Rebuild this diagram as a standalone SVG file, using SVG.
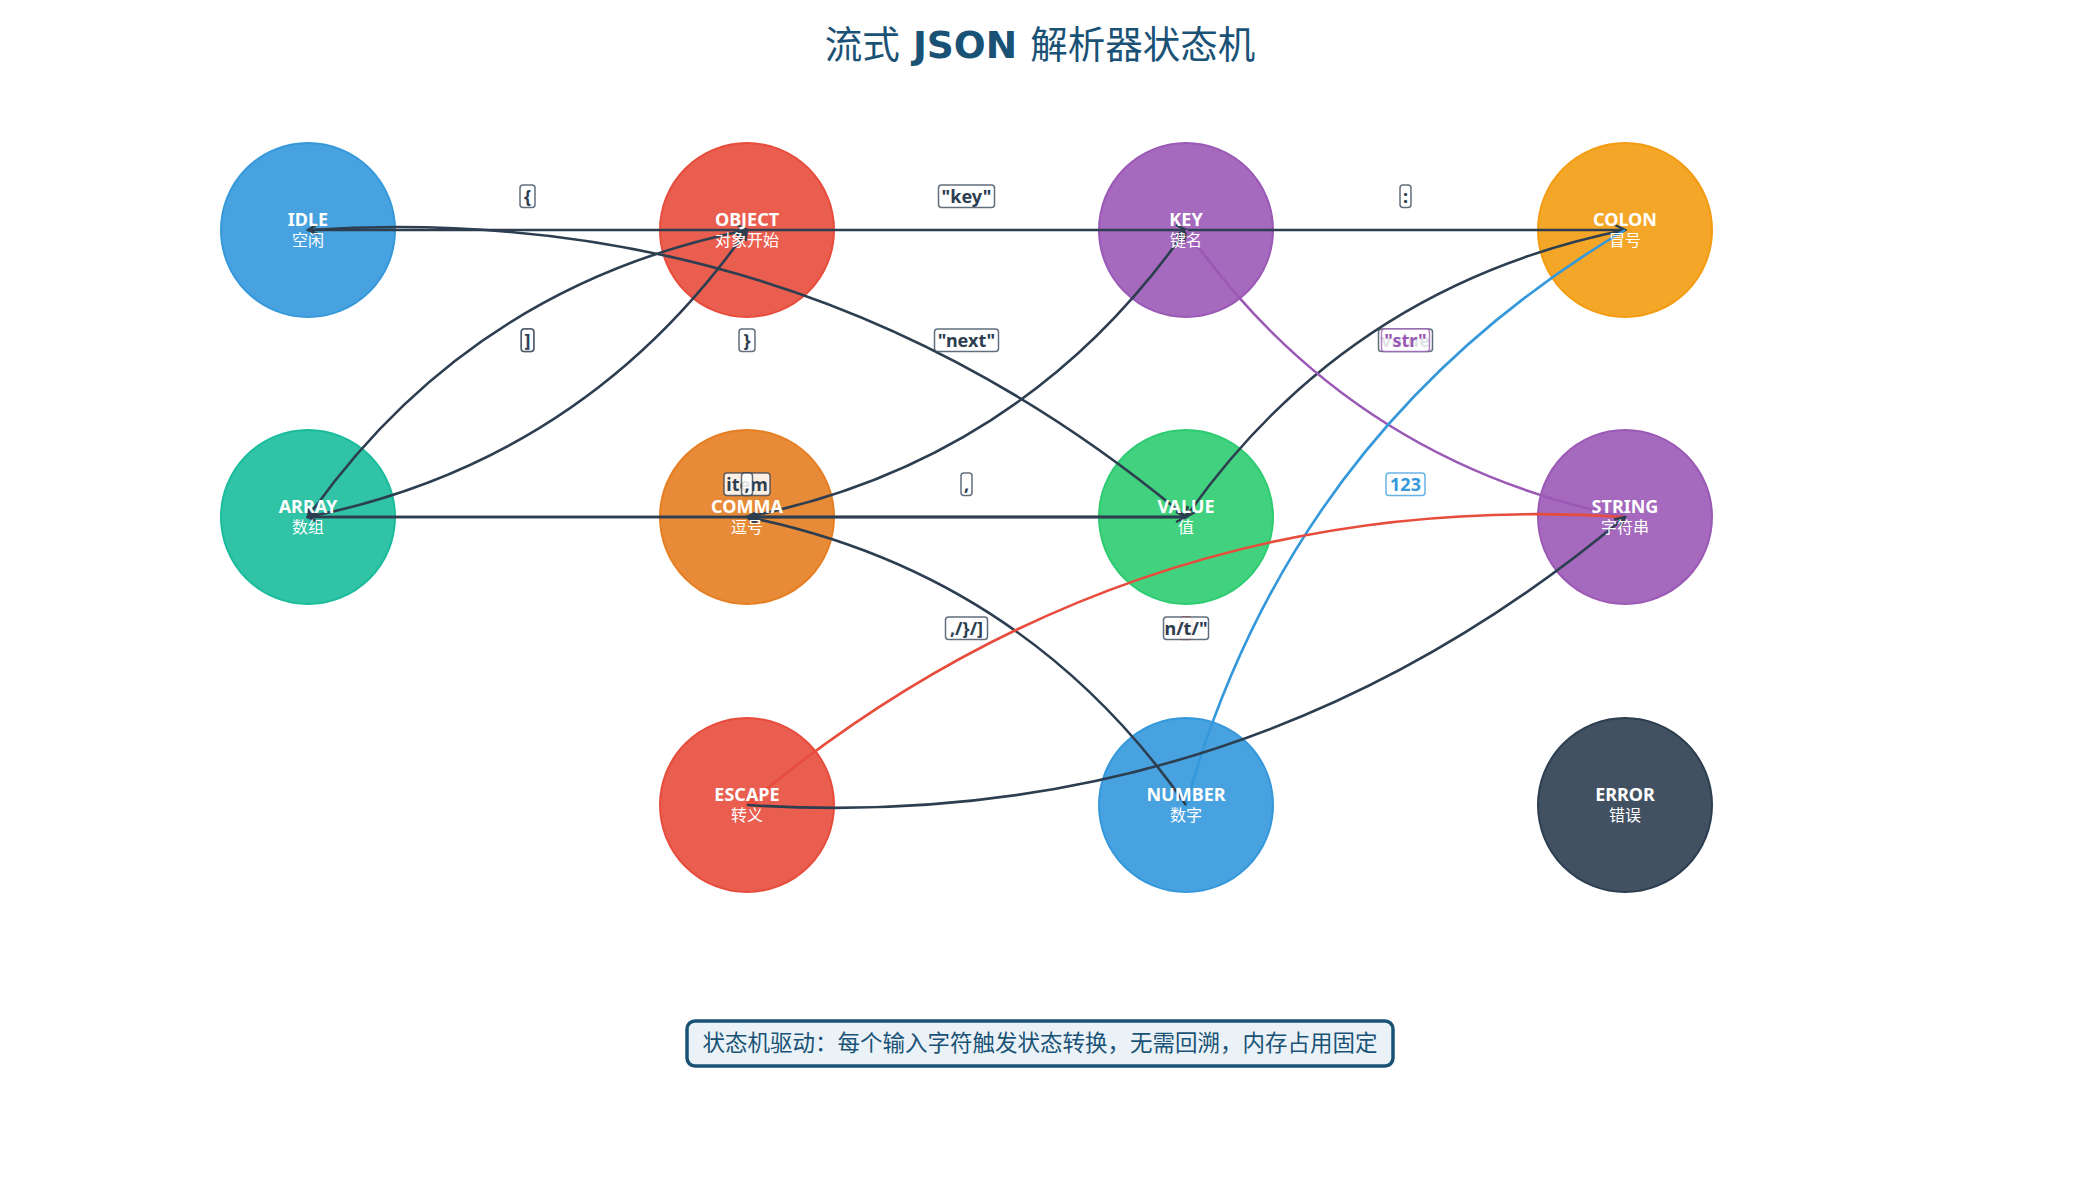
<svg xmlns="http://www.w3.org/2000/svg" width="2080" height="1180" viewBox="0 0 2080 1180">
<defs>
<style>
.node circle{stroke-width:2;fill-opacity:0.9}
.nm{font-family:"Noto Sans","Open Sans","DejaVu Sans",sans-serif;font-weight:bold;font-size:18px;fill:#fff;text-anchor:middle}
.sb{font-family:"Noto Sans CJK SC","Noto Sans",sans-serif;font-size:16px;fill:#fff;text-anchor:middle}
.e{fill:none;stroke-width:2.6}
.ed{stroke:#2c3e50;marker-end:url(#ad)}
.ep{stroke:#9b59b6;marker-end:url(#ap)}
.eb{stroke:#3498db;marker-end:url(#ab)}
.er{stroke:#e74c3c;marker-end:url(#ar)}
.lb rect{fill:#fff;fill-opacity:0.86;stroke-width:1.5;stroke-opacity:0.75}
.lb text{font-family:"Noto Sans","Open Sans","DejaVu Sans",sans-serif;font-weight:bold;font-size:18px;text-anchor:middle}
.ld rect{stroke:#2c3e50}.ld text{fill:#2c3e50}
.lp rect{stroke:#9b59b6}.lp text{fill:#9b59b6}
.lbb rect{stroke:#3498db}.lbb text{fill:#3498db}
.lr rect{stroke:#e74c3c}.lr text{fill:#e74c3c}
</style>
<marker id="ad" viewBox="0 0 14 14" refX="12" refY="7" markerWidth="14" markerHeight="14" markerUnits="userSpaceOnUse" orient="auto"><path d="M2,2 L12,7 L2,12" fill="none" stroke="#2c3e50" stroke-width="2.5"/></marker>
<marker id="ap" viewBox="0 0 14 14" refX="12" refY="7" markerWidth="14" markerHeight="14" markerUnits="userSpaceOnUse" orient="auto"><path d="M2,2 L12,7 L2,12" fill="none" stroke="#9b59b6" stroke-width="2.5"/></marker>
<marker id="ab" viewBox="0 0 14 14" refX="12" refY="7" markerWidth="14" markerHeight="14" markerUnits="userSpaceOnUse" orient="auto"><path d="M2,2 L12,7 L2,12" fill="none" stroke="#3498db" stroke-width="2.5"/></marker>
<marker id="ar" viewBox="0 0 14 14" refX="12" refY="7" markerWidth="14" markerHeight="14" markerUnits="userSpaceOnUse" orient="auto"><path d="M2,2 L12,7 L2,12" fill="none" stroke="#e74c3c" stroke-width="2.5"/></marker>
</defs>
<rect width="2080" height="1180" fill="#fff"/>
<text x="1040" y="58" text-anchor="middle" fill="#1a5276" font-size="37.5" font-family="'DejaVu Sans','Noto Sans CJK SC',sans-serif"><tspan font-family="'Noto Sans CJK SC',sans-serif">流式</tspan><tspan font-weight="bold"> JSON </tspan><tspan font-family="'Noto Sans CJK SC',sans-serif">解析器状态机</tspan></text>

<g id="node-idle" class="node"><circle cx="308" cy="230" r="87" fill="#3498db" stroke="#3498db"/></g>
<g id="node-object" class="node"><circle cx="747" cy="230" r="87" fill="#e74c3c" stroke="#e74c3c"/></g>
<g id="node-key" class="node"><circle cx="1186" cy="230" r="87" fill="#9b59b6" stroke="#9b59b6"/></g>
<g id="node-colon" class="node"><circle cx="1625" cy="230" r="87" fill="#f39c12" stroke="#f39c12"/></g>
<g id="node-array" class="node"><circle cx="308" cy="517" r="87" fill="#1abc9c" stroke="#1abc9c"/></g>
<g id="node-comma" class="node"><circle cx="747" cy="517" r="87" fill="#e67e22" stroke="#e67e22"/></g>
<g id="node-value" class="node"><circle cx="1186" cy="517" r="87" fill="#2ecc71" stroke="#2ecc71"/></g>
<g id="node-string" class="node"><circle cx="1625" cy="517" r="87" fill="#9b59b6" stroke="#9b59b6"/></g>
<g id="node-escape" class="node"><circle cx="747" cy="805" r="87" fill="#e74c3c" stroke="#e74c3c"/></g>
<g id="node-number" class="node"><circle cx="1186" cy="805" r="87" fill="#3498db" stroke="#3498db"/></g>
<g id="node-error" class="node"><circle cx="1625" cy="805" r="87" fill="#2c3e50" stroke="#2c3e50"/></g>

<g id="connectors">
<path class="e ed" d="M308,230 L747,230"/>
<path class="e ed" d="M747,230 L1186,230"/>
<path class="e ed" d="M1186,230 L1625,230"/>
<path class="e ed" d="M747,230 Q470.1,285.7 308,517"/>
<path class="e ed" d="M308,517 Q584.9,461.3 747,230"/>
<path class="e ed" d="M1186,517 Q804.4,197.9 308,230"/>
<path class="e ed" d="M747,517 Q1023.9,461.3 1186,230"/>
<path class="e ed" d="M1625,230 Q1348.1,285.7 1186,517"/>
<path class="e ep" d="M1186,230 Q1348.1,461.3 1625,517"/>
<path class="e ed" d="M308,517 L1186,517"/>
<path class="e ed" d="M1186,517 L308,517"/>
<path class="e ed" d="M1186,517 L747,517"/>
<path class="e eb" d="M1625,230 Q1290.5,429.7 1186,805"/>
<path class="e ed" d="M1186,805 Q1024.1,573.2 747,517"/>
<path class="e er" d="M1625,517 Q1128.4,485.4 747,805"/>
<path class="e ed" d="M747,805 Q1243.6,836.6 1625,517"/>
</g>

<g id="labels">
<g class="lb ld"><rect x="520" y="185" width="15" height="22.5" rx="3"/><text x="527.5" y="202.5">{</text></g>
<g class="lb ld"><rect x="938.5" y="185" width="56" height="22.5" rx="3"/><text x="966.5" y="202.5">"key"</text></g>
<g class="lb ld"><rect x="1400" y="185" width="11" height="22.5" rx="3"/><text x="1405.5" y="202.5">:</text></g>
<g class="lb ld"><rect x="521.3" y="329" width="12.5" height="22.5" rx="3"/><text x="527.5" y="346.5">[</text></g>
<g class="lb ld"><rect x="521.3" y="329" width="12.5" height="22.5" rx="3"/><text x="527.5" y="346.5">]</text></g>
<g class="lb ld"><rect x="739" y="329" width="16" height="22.5" rx="3"/><text x="747" y="346.5">}</text></g>
<g class="lb ld"><rect x="934.5" y="329" width="64" height="22.5" rx="3"/><text x="966.5" y="346.5">"next"</text></g>
<g class="lb ld"><rect x="1378.5" y="329" width="54" height="22.5" rx="3"/><text x="1405.5" y="346.5">value</text></g>
<g class="lb lp"><rect x="1381.5" y="329" width="48" height="22.5" rx="3"/><text x="1405.5" y="346.5">"str"</text></g>
<g class="lb ld"><rect x="724" y="473" width="46" height="22.5" rx="3"/><text x="747" y="490.5">item</text></g>
<g class="lb ld"><rect x="741.5" y="473" width="11" height="22.5" rx="3"/><text x="747" y="490.5">,</text></g>
<g class="lb ld"><rect x="961" y="473" width="11" height="22.5" rx="3"/><text x="966.5" y="490.5">,</text></g>
<g class="lb lbb"><rect x="1386" y="473" width="39" height="22.5" rx="3"/><text x="1405.5" y="490.5">123</text></g>
<g class="lb ld"><rect x="945.5" y="617" width="42" height="22.5" rx="3"/><text x="966.5" y="634.5">,/}/]</text></g>
<g class="lb lr"><rect x="1180" y="617" width="12" height="22.5" rx="3"/><text x="1186" y="634.5">\</text></g>
<g class="lb ld"><rect x="1163.5" y="617" width="45" height="22.5" rx="3"/><text x="1186" y="634.5">n/t/"</text></g>
</g>

<g id="node-texts">
<g id="node-idle-text"><text class="nm" x="308" y="226">IDLE</text><text class="sb" x="308" y="246">空闲</text></g>
<g id="node-object-text"><text class="nm" x="747" y="226">OBJECT</text><text class="sb" x="747" y="246">对象开始</text></g>
<g id="node-key-text"><text class="nm" x="1186" y="226">KEY</text><text class="sb" x="1186" y="246">键名</text></g>
<g id="node-colon-text"><text class="nm" x="1625" y="226">COLON</text><text class="sb" x="1625" y="246">冒号</text></g>
<g id="node-array-text"><text class="nm" x="308" y="513">ARRAY</text><text class="sb" x="308" y="533">数组</text></g>
<g id="node-comma-text"><text class="nm" x="747" y="513">COMMA</text><text class="sb" x="747" y="533">逗号</text></g>
<g id="node-value-text"><text class="nm" x="1186" y="513">VALUE</text><text class="sb" x="1186" y="533">值</text></g>
<g id="node-string-text"><text class="nm" x="1625" y="513">STRING</text><text class="sb" x="1625" y="533">字符串</text></g>
<g id="node-escape-text"><text class="nm" x="747" y="801">ESCAPE</text><text class="sb" x="747" y="821">转义</text></g>
<g id="node-number-text"><text class="nm" x="1186" y="801">NUMBER</text><text class="sb" x="1186" y="821">数字</text></g>
<g id="node-error-text"><text class="nm" x="1625" y="801">ERROR</text><text class="sb" x="1625" y="821">错误</text></g>
</g>

<g id="note">
<rect x="687" y="1021" width="706" height="45" rx="8" fill="#eaf2f8" stroke="#1a5276" stroke-width="3.5"/>
<text x="1040" y="1051" text-anchor="middle" fill="#1a5276" font-size="22.5" font-family="'Noto Sans CJK SC','Noto Sans',sans-serif">状态机驱动：每个输入字符触发状态转换，无需回溯，内存占用固定</text>
</g>
</svg>
